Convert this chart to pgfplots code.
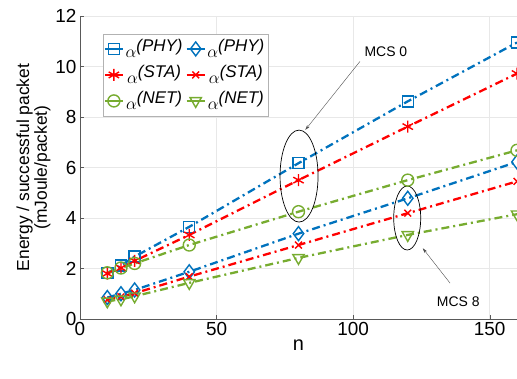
\documentclass[border=0pt]{standalone}
\usepackage{pgfplots}
\pgfplotsset{compat=1.18}
\usepackage{fontspec}
\setmainfont{Liberation Sans}
\usetikzlibrary{arrows.meta}
\definecolor{mblue}{RGB}{0,114,189}
\definecolor{mred}{RGB}{255,0,0}
\definecolor{mgreen}{RGB}{119,172,48}
\tikzset{myline/.style={line width=2.3pt, dash pattern=on 8bp off 4bp on 2bp off 4bp, mark size=5.5bp, mark options={solid, line width=1.4pt}}}
\begin{document}
\begin{tikzpicture}
\begin{axis}[
  name=ax,
  scale only axis,
  width=437bp, height=303bp,
  xmin=0, xmax=160, ymin=0, ymax=12,
  xtick={0,50,100,150}, ytick={0,2,...,12},
  axis lines*=left,
  axis line style={gray!70!black, line width=0.5pt},
  tick style={gray!70!black},
  tick align=inside,
  major tick length=4bp,
  grid=major,
  grid style={gray!18, line width=0.5pt},
  /pgf/number format/assume math mode=true,
  tick label style={font=\fontsize{19}{21}\selectfont},
  xlabel={n},
  xlabel style={font=\fontsize{20}{22}\selectfont, yshift=3bp},
  ylabel style={font=\fontsize{17.5}{18}\selectfont, align=center, yshift=-2bp},
  ylabel={Energy / successful packet\\(mJoule/packet)},
  legend columns=2,
  legend style={at={(axis cs:8.4,11.3)}, anchor=north west, draw=gray!60, line width=0.5pt, fill=white,
    font=\fontsize{17}{19}\selectfont, inner xsep=1bp, inner ysep=3bp,
    /tikz/every even column/.append style={column sep=1bp},
    row sep=2bp},
  legend image code/.code={\draw[mark repeat=2,mark phase=2,#1,solid,line width=1.4pt] plot coordinates {(0bp,0bp)(9bp,0bp)(18bp,0bp)};},
  clip=false,
]
% MCS 0
\addplot[myline, color=mblue, mark=square] coordinates {(10,1.82)(15,2.12)(20,2.47)(40,3.65)(80,6.17)(120,8.62)(160,10.95)};
\addlegendentry{$\alpha^{\textit{(PHY)}}$}
\addplot[myline, color=mblue, mark=diamond, mark size=7bp] coordinates {(10,0.85)(15,1.0)(20,1.15)(40,1.87)(80,3.38)(120,4.78)(160,6.22)};
\addlegendentry{$\alpha^{\textit{(PHY)}}$}
\addplot[myline, color=mred, mark=asterisk, mark size=6bp] coordinates {(10,1.8)(15,2.02)(20,2.3)(40,3.33)(80,5.5)(120,7.62)(160,9.72)};
\addlegendentry{$\alpha^{\textit{(STA)}}$}
\addplot[myline, color=mred, mark=x, mark size=4.8bp] coordinates {(10,0.76)(15,0.88)(20,1.02)(40,1.68)(80,2.93)(120,4.19)(160,5.45)};
\addlegendentry{$\alpha^{\textit{(STA)}}$}
\addplot[myline, color=mgreen, mark=o, mark size=6bp] coordinates {(10,1.83)(15,2.02)(20,2.2)(40,2.93)(80,4.25)(120,5.5)(160,6.68)};
\addlegendentry{$\alpha^{\textit{(NET)}}$}
\addplot[myline, color=mgreen, mark=triangle, mark size=6.5bp, mark options={solid, rotate=180, line width=1.4pt}] coordinates {(10,0.7)(15,0.78)(20,0.9)(40,1.43)(80,2.42)(120,3.33)(160,4.15)};
\addlegendentry{$\alpha^{\textit{(NET)}}$}
% annotations
\draw[black, line width=0.7pt] (axis cs:80.2,5.66) ellipse [x radius=19bp, y radius=46bp];
\draw[black, line width=0.7pt] (axis cs:119.8,4.0) ellipse [x radius=13.5bp, y radius=32bp];
\draw[gray!60!black, line width=0.4pt, -{Stealth[length=5bp,width=3bp]}] (axis cs:102.5,10.2) -- (axis cs:82.5,7.49);
\node[font=\fontsize{14}{16}\selectfont, anchor=center] at (axis cs:112,10.6) {MCS 0};
\draw[gray!60!black, line width=0.4pt, -{Stealth[length=5bp,width=3bp]}] (axis cs:135.5,1.42) -- (axis cs:125.5,2.8);
\node[font=\fontsize{14}{16}\selectfont, anchor=center] at (axis cs:138.5,0.67) {MCS 8};
\end{axis}
\pgfresetboundingbox
\path (ax.south west) ++(-80bp,-60bp) coordinate (bl);
\path (ax.north east) ++(0bp,16bp) coordinate (tr);
\path (bl) rectangle (tr);
\end{tikzpicture}
\end{document}
